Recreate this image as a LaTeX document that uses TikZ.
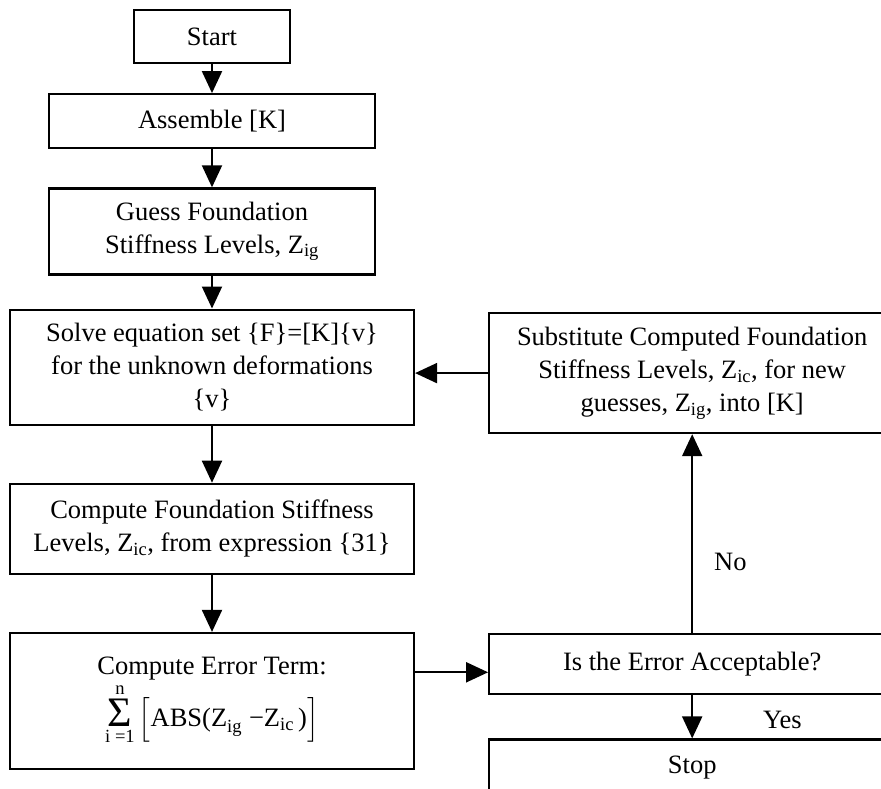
\documentclass[tikz,border=0pt]{standalone}
\usepackage{fontspec}
\setmainfont{Liberation Serif}
\usepackage{amsmath}
\usetikzlibrary{positioning, arrows.meta}

\begin{document}
\begin{tikzpicture}[
  node distance=36pt and 73pt,
  stepbox/.style={draw=black, line width=2.2pt, fill=white, align=center,
                  inner sep=0pt, font=\fontsize{26.5}{33}\selectfont},
  lbl/.style={inner sep=0pt, font=\fontsize{26.5}{33}\selectfont},
  arr/.style={-{Triangle[length=22pt,width=20pt]}, line width=2pt}
]
  \clip (0pt,0pt) rectangle (881pt,-789pt);

  % Left column
  \node[stepbox, minimum width=156pt, minimum height=53pt] (start) at (212pt,-36.5pt) {Start};
  \node[stepbox, minimum width=326pt, minimum height=54pt, below=29pt of start] (asm) {Assemble [K]};
  \node[stepbox, minimum width=326pt, minimum height=86pt, below=38pt of asm] (guess)
    {Guess Foundation\\Stiffness Levels, Z\textsubscript{ig}};
  \node[stepbox, minimum width=404pt, minimum height=115pt, below=33pt of guess] (solve)
    {Solve equation set \{F\}=[K]\{v\}\\for the unknown deformations\\\{v\}};
  \node[stepbox, minimum width=404pt, minimum height=90pt, below=57pt of solve] (comp)
    {Compute Foundation Stiffness\\Levels, Z\textsubscript{ic}, from expression \{31\}};
  \node[stepbox, minimum width=404pt, minimum height=136pt, below=57pt of comp] (err)
    {Compute Error Term:\\[2pt]
     $\mathop{\text{\fontsize{42}{42}\selectfont Σ}}\limits_{\text{i =1}}^{\text{n}}
      \Big[\text{ABS(Z}_{\text{ig}}\;\text{−Z}_{\text{ic}}\,\text{)}\Big]$};

  % Right column
  \node[stepbox, minimum width=406pt, minimum height=120pt, right=73pt of solve, yshift=-6pt] (subst)
    {Substitute Computed Foundation\\Stiffness Levels, Z\textsubscript{ic}, for new\\guesses, Z\textsubscript{ig}, into [K]};
  \node[stepbox, minimum width=406pt, minimum height=60pt, below=199pt of subst] (is)
    {Is the Error Acceptable?};
  \node[stepbox, minimum width=406pt, minimum height=60pt, below=43pt of is, text depth=9pt] (stop)
    {Stop};

  % Arrows
  \draw[arr] (start) -- (asm);
  \draw[arr] (asm) -- (guess);
  \draw[arr] (guess) -- (solve);
  \draw[arr] (solve) -- (comp);
  \draw[arr] (comp) -- (err);
  \draw[arr] ([yshift=-8pt]is.west -| err.east) -- ([yshift=-8pt]is.west);
  \draw[arr] (is) -- node[lbl, pos=0.36, right=21pt] {No} (subst);
  \draw[arr] (is) -- node[lbl, pos=0.56, right=70pt] {Yes} (stop);
  \draw[arr] (subst.west) -- (subst.west -| solve.east);
\end{tikzpicture}
\end{document}
